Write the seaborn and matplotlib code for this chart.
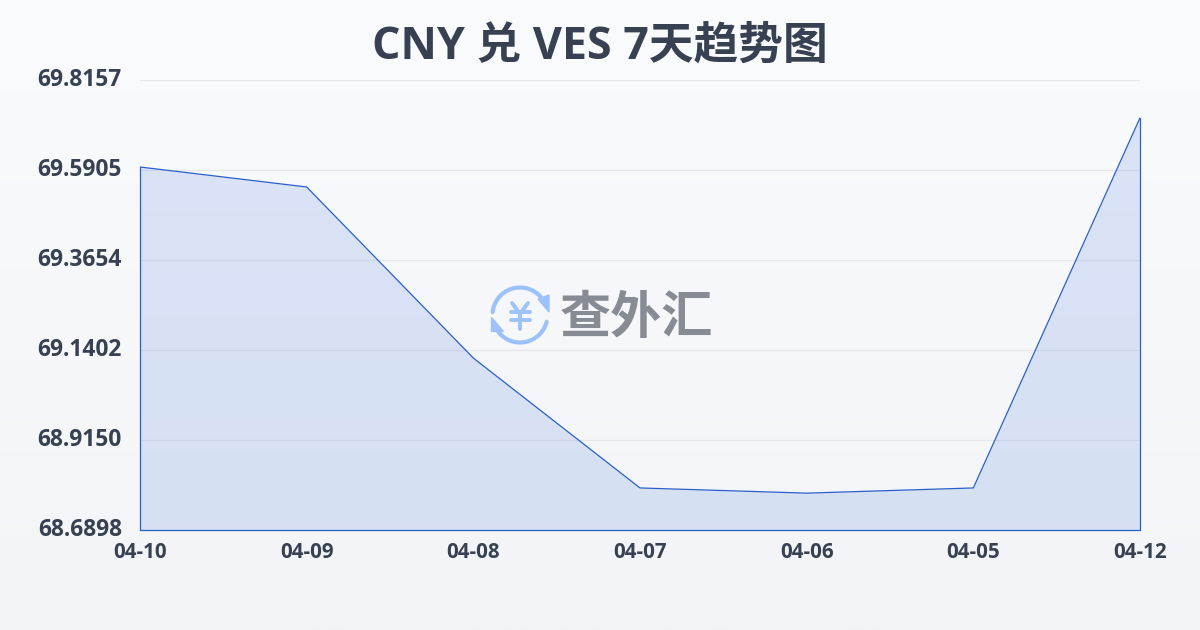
import numpy as np
import pandas as pd
import matplotlib
matplotlib.use("Agg")
import matplotlib.pyplot as plt
from matplotlib.patches import Arc, Polygon
from matplotlib.colors import LinearSegmentedColormap
from matplotlib.transforms import ScaledTranslation
import seaborn as sns

dates = ["04-10", "04-09", "04-08", "04-07", "04-06", "04-05", "04-12"]
rates = [69.598, 69.548, 69.120, 68.795, 68.782, 68.795, 69.721]
y_ticks = [68.6898, 68.9150, 69.1402, 69.3654, 69.5905, 69.8157]
y_labels = ["68.6898", "68.9150", "69.1402", "69.3654", "69.5905", "69.8157"]
title = "CNY 兑 VES 7天趋势图"
watermark = "查外汇"

W, H = 1200, 630
TEXT = "#374151"
LINE = "#2a5fc9"
FONTS = ["Open Sans", "Noto Sans CJK SC", "DejaVu Sans"]

sns.set_theme(style="white")
plt.rcParams["font.family"] = FONTS

df = pd.DataFrame({"date": dates, "rate": rates})
fig = plt.figure(figsize=(W / 100, H / 100), dpi=100)

# page background, light vertical gradient
bg = fig.add_axes([0, 0, 1, 1], zorder=0)
cmap = LinearSegmentedColormap.from_list("bg", ["#f9fbfd", "#f2f4f7"])
bg.imshow(np.linspace(0, 1, 256).reshape(-1, 1), aspect="auto", cmap=cmap,
          extent=[0, W, H, 0])
bg.set_xlim(0, W)
bg.set_ylim(H, 0)
bg.axis("off")

ax = fig.add_axes([140 / W, 1 - 530 / H, 1000 / W, 450 / H], zorder=1)
ax.patch.set_alpha(0)

xs = np.arange(len(dates))
ax.fill_between(xs, y_ticks[0], df.rate, color="#2a62d8", alpha=0.14, lw=0, zorder=2)
sns.lineplot(data=df, x="date", y="rate", sort=False, color=LINE, linewidth=0.9,
             ax=ax, zorder=3)
ax.plot([0, 0], [rates[0], y_ticks[0]], color=LINE, lw=0.9, zorder=3, clip_on=False)
ax.plot([0, xs[-1]], [y_ticks[0], y_ticks[0]], color=LINE, lw=0.9, zorder=3,
        clip_on=False)
ax.plot([xs[-1], xs[-1]], [y_ticks[0], rates[-1]], color=LINE, lw=0.9, zorder=3,
        clip_on=False)

ax.set_xlim(0, len(dates) - 1)
ax.set_ylim(y_ticks[0], y_ticks[-1])
ax.set_xticks(xs)
ax.set_xticklabels(dates)
ax.set_yticks(y_ticks)
ax.set_yticklabels(y_labels)
ax.set_xlabel("")
ax.set_ylabel("")
ax.grid(axis="y", color="#e5e7eb", lw=0.9)
ax.set_axisbelow(True)
sns.despine(ax=ax, left=True, bottom=True)
ax.tick_params(axis="x", length=7, width=0.8, color="#e5e7eb", pad=2,
               labelsize=14.8, labelcolor=TEXT)
ax.tick_params(axis="y", length=0, pad=13, labelsize=16.4, labelcolor=TEXT)
for lab in ax.get_xticklabels() + ax.get_yticklabels():
    lab.set_fontweight("bold")
# y labels sit a little above their gridlines in the reference
up = ScaledTranslation(0, 2 / 72, fig.dpi_scale_trans)
for lab in ax.get_yticklabels():
    lab.set_transform(lab.get_transform() + up)

fig.text(600 / W, 1 - 47 / H, title, ha="center", va="center", fontsize=32.2,
         fontweight="bold", color=TEXT, family=FONTS)

# watermark: circular arrows around the yen sign, then the site name
ICON = "#9dc1fb"
cx, cy = 520, 315
for start, end in [(186, 318), (14, 142)]:
    bg.add_patch(Arc((cx, cy), 55, 55, theta1=start, theta2=end, color=ICON, lw=3,
                     capstyle="round", zorder=5))
bg.add_patch(Polygon([(538, 299), (549, 295), (549, 312)], color=ICON, zorder=5))
bg.add_patch(Polygon([(491, 317), (491, 331), (503, 331)], color=ICON, zorder=5))
for seg_x, seg_y in [((512, 520, 528), (303, 314, 303)), ((511, 530), (312, 312)),
                     ((511, 530), (320, 320)), ((520, 520), (314, 329))]:
    bg.plot(seg_x, seg_y, color=ICON, lw=2.8, solid_capstyle="round",
            solid_joinstyle="round", zorder=5)
fig.text(636 / W, 1 - 319 / H, watermark, ha="center", va="center", fontsize=36.8,
         fontweight="bold", color="#868b94", family="Noto Sans CJK SC")

fig.savefig("out.png", dpi=100)
